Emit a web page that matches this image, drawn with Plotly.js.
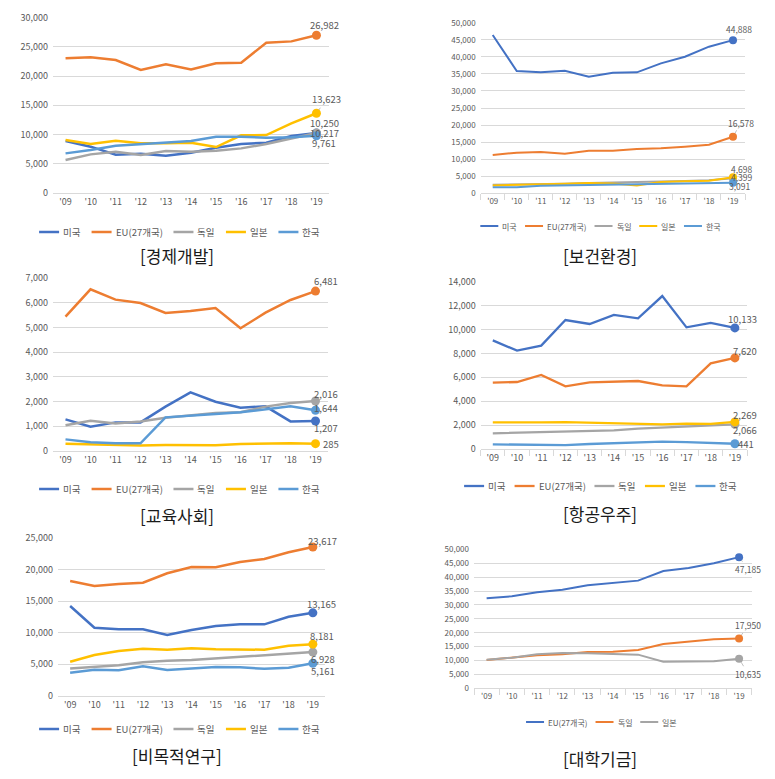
<!DOCTYPE html>
<html>
<head>
<meta charset="utf-8">
<script src="https://cdn.plot.ly/plotly-3.0.1.min.js"></script>
<style>html,body{margin:0;padding:0;background:#fff;}#chart{width:775px;height:779px;}</style>
</head>
<body>
<div id="chart"></div>
<script>
// ---- data ----
const years = ["'09","'10","'11","'12","'13","'14","'15","'16","'17","'18","'19"];
const countries5 = ["미국","EU(27개국)","독일","일본","한국"];
const countries3 = ["EU(27개국)","독일","일본"];

// [경제개발]
const econUS  = [8850,7890,6510,6690,6340,6860,7710,8340,8570,9710,10217];
const econEU  = [23030,23200,22740,21030,22000,21140,22170,22290,25700,25940,26982];
const econDE  = [5600,6570,7030,6460,7140,7030,7200,7600,8340,9310,10250];
const econJP  = [9030,8340,8910,8460,8460,8570,7830,9830,9890,11890,13623];
const econKR  = [6740,7310,8060,8340,8510,8860,9600,9600,9430,9490,9761];

// [보건환경]
const healthUS = [46390,35840,35450,35940,34180,35350,35450,38090,40040,42970,44888];
const healthEU = [11230,11910,12110,11620,12500,12500,12990,13180,13670,14260,16578];
const healthDE = [2500,2550,2700,2800,3000,3100,3200,3400,3600,3800,4399];
const healthJP = [2300,2400,2600,2800,3000,2900,2300,3300,3500,3700,4698];
const healthKR = [1800,1800,2200,2300,2400,2500,2700,2900,3000,3000,3091];

// [교육사회]
const eduUS = [1273,975,1150,1150,1787,2370,1990,1747,1800,1190,1207];
const eduEU = [5443,6553,6133,5998,5592,5673,5795,4969,5605,6120,6481];
const eduDE = [1030,1220,1100,1190,1340,1420,1530,1560,1790,1940,2016];
const eduJP = [285,260,215,215,230,230,220,270,300,300,285];
const eduKR = [460,340,300,300,1354,1408,1490,1560,1690,1800,1644];

// [항공우주]
const aeroUS = [9093,8230,8650,10795,10460,11215,10935,12800,10180,10545,10133];
const aeroEU = [5550,5607,6193,5245,5580,5635,5690,5330,5245,7170,7620];
const aeroDE = [1310,1350,1400,1450,1520,1560,1700,1780,1850,1960,2066];
const aeroJP = [2230,2200,2220,2250,2200,2100,2090,2060,2120,2100,2269];
const aeroKR = [390,350,300,320,420,480,590,620,580,480,441];

// [비목적연구]
const basicUS = [14250,10800,10540,10540,9640,10430,11070,11330,11330,12550,13165];
const basicEU = [18220,17430,17740,17950,19440,20440,20390,21240,21720,22780,23617];
const basicDE = [4340,4610,4820,5300,5560,5670,5930,6140,6460,6620,6928];
const basicJP = [5400,6460,7100,7470,7310,7520,7360,7310,7310,7940,8181];
const basicKR = [3650,4130,4030,4660,4080,4340,4560,4500,4290,4450,5161];

// [대학기금]
const univEU = [32370,33090,34530,35490,37050,37890,38730,42210,43290,44960,47185];
const univDE = [10190,11030,11870,12230,13070,13190,13790,15950,16790,17630,17950];
const univJP = [10310,11030,12230,12710,12590,12470,12110,9590,9710,9710,10635];

const panelTitles = ["[경제개발]","[보건환경]","[교육사회]","[항공우주]","[비목적연구]","[대학기금]"];

// ---- styling / layout ----
const W = 775, H = 779;
const FONT = "'Noto Sans CJK KR', 'Noto Sans', sans-serif";
const col5 = ["#4472C4","#ED7D31","#A5A5A5","#FFC000","#5B9BD5"];
const col3 = ["#4472C4","#ED7D31","#A5A5A5"];

const panels = [
  {names: countries5, data:[econUS,econEU,econDE,econJP,econKR], colors: col5,
   px:[53,329], py:[192.7,17.7], ymax:30000, dtick:5000, fs:9, lw:2.5, ms:9, ticks:false,
   leg:[179,232], lfs:9.5, llen:20, lgap:12, ttl:[177,255],
   labs:[[8,0,0],[8,-10,0],[8,-10,0],[10,-14,1],[8,7,0]]},
  {names: countries5, data:[healthUS,healthEU,healthDE,healthJP,healthKR], colors: col5,
   px:[480.7,745], py:[193.3,22.7], ymax:50000, dtick:5000, fs:8, lw:2, ms:8, ticks:true,
   leg:[600,226], lfs:8, llen:18, lgap:9, ttl:[600,255],
   labs:[[6,-11,1],[8,-14,1],[9,-1,0],[9,-8,0],[7,3,0]]},
  {names: countries5, data:[eduUS,eduEU,eduDE,eduJP,eduKR], colors: col5,
   px:[53,328], py:[450.7,278.3], ymax:7000, dtick:1000, fs:9, lw:2.5, ms:9, ticks:false,
   leg:[179,489], lfs:9.5, llen:20, lgap:12, ttl:[177,515],
   labs:[[10,7,0],[10,-10,0],[10,-7,0],[15,0,0],[10,-2,0]]},
  {names: countries5, data:[aeroUS,aeroEU,aeroDE,aeroJP,aeroKR], colors: col5,
   px:[480.7,747], py:[449,281.7], ymax:14000, dtick:2000, fs:9, lw:2.3, ms:9, ticks:true,
   leg:[600,486], lfs:9.5, llen:20, lgap:10, ttl:[600,513],
   labs:[[8,-9,0],[10,-7,0],[10,6,0],[10,-7,0],[11,0,0]]},
  {names: countries5, data:[basicUS,basicEU,basicDE,basicJP,basicKR], colors: col5,
   px:[58,325], py:[695.7,538.3], ymax:25000, dtick:5000, fs:9, lw:2.5, ms:9, ticks:false,
   leg:[179,729], lfs:9.5, llen:20, lgap:12, ttl:[177,755],
   labs:[[9,-9,0],[10,-6,0],[10,7,0],[9,-8,0],[10,8,0]]},
  {names: countries3, data:[univEU,univDE,univJP], colors: col3,
   px:[474,751.7], py:[688.3,549.3], ymax:50000, dtick:5000, fs:8, lw:2, ms:8, ticks:true,
   leg:[601,722], lfs:8, llen:18, lgap:9, ttl:[600,758],
   labs:[[9,12,1],[9,-13,1],[9,15,1]]}
];

const ctx = document.createElement("canvas").getContext("2d");
function textWidth(t, size) {
  ctx.font = size + "px 'Noto Sans CJK KR'";
  return ctx.measureText(t).width;
}

const traces = [];
const annotations = [];
const shapes = [];
const layout = {
  width: W, height: H,
  margin: {l:0, r:0, t:0, b:0},
  paper_bgcolor: "#fff", plot_bgcolor: "#fff",
  font: {family: FONT, color: "#595959"},
  showlegend: false
};

panels.forEach((p, i) => {
  const n = i + 1;
  const xa = n === 1 ? "x" : "x" + n;
  const ya = n === 1 ? "y" : "y" + n;
  const xk = n === 1 ? "xaxis" : "xaxis" + n;
  const yk = n === 1 ? "yaxis" : "yaxis" + n;

  layout[xk] = {
    type: "category", domain: [p.px[0]/W, p.px[1]/W], range: [-0.5, 10.5],
    anchor: ya, showgrid: false, zeroline: false,
    showline: true, linecolor: "#d9d9d9", linewidth: 1,
    ticks: p.ticks ? "outside" : "", tickson: "boundaries", ticklen: 6, tickcolor: "#d9d9d9",
    tickfont: {family: FONT, size: p.fs, color: "#595959"}, fixedrange: true
  };
  layout[yk] = {
    domain: [1 - p.py[0]/H, 1 - p.py[1]/H], range: [0, p.ymax], dtick: p.dtick,
    anchor: xa, showgrid: true, gridcolor: "#d9d9d9", gridwidth: 1, zeroline: false,
    showline: false, tickformat: ",", ticks: "", ticklabelstandoff: 4,
    tickfont: {family: FONT, size: p.fs, color: "#595959"}, fixedrange: true
  };

  p.data.forEach((vals, k) => {
    traces.push({
      type: "scatter", mode: "lines", x: years, y: vals, name: p.names[k],
      xaxis: xa, yaxis: ya,
      line: {color: p.colors[k], width: p.lw}, hoverinfo: "skip"
    });
  });
  p.data.forEach((vals, k) => {
    const last = vals.length - 1;
    traces.push({
      type: "scatter", mode: "markers", x: [years[last]], y: [vals[last]],
      xaxis: xa, yaxis: ya,
      marker: {color: p.colors[k], size: p.ms}, hoverinfo: "skip"
    });
    const [dx, dy, leader] = p.labs[k];
    const a = {
      x: years[last], y: vals[last], xref: xa, yref: ya,
      text: vals[last].toLocaleString("en-US"),
      font: {family: FONT, size: p.fs + 0.5, color: "#595959"}
    };
    if (leader) {
      Object.assign(a, {showarrow: true, ax: dx, ay: dy, arrowhead: 0, arrowwidth: 0.7,
        arrowcolor: "#a6a6a6", standoff: 4, startstandoff: 0});
    } else {
      Object.assign(a, {showarrow: false, xshift: dx, yshift: -dy});
    }
    annotations.push(a);
  });

  // legend (line sample + label), centered under each panel
  const gapT = 3, gapI = p.lgap;
  const widths = p.names.map(nm => p.llen + gapT + textWidth(nm, p.lfs));
  const total = widths.reduce((s, w) => s + w, 0) + gapI * (widths.length - 1);
  let x0 = p.leg[0] - total / 2;
  const ly = 1 - p.leg[1] / H;
  p.names.forEach((nm, k) => {
    shapes.push({type: "line", xref: "paper", yref: "paper",
      x0: x0 / W, x1: (x0 + p.llen) / W, y0: ly, y1: ly,
      line: {color: p.colors[k], width: p.lw}});
    annotations.push({xref: "paper", yref: "paper", x: (x0 + p.llen + gapT) / W, y: ly,
      xanchor: "left", yanchor: "middle", showarrow: false, borderpad: 0,
      text: nm, font: {family: FONT, size: p.lfs, color: "#595959"}});
    x0 += widths[k] + gapI;
  });

  annotations.push({
    xref: "paper", yref: "paper", x: p.ttl[0]/W, y: 1 - p.ttl[1]/H,
    xanchor: "center", yanchor: "middle", showarrow: false,
    text: panelTitles[i], font: {family: FONT, size: 17, color: "#1a1a1a"}
  });
});

layout.annotations = annotations;
layout.shapes = shapes;
Plotly.newPlot("chart", traces, layout, {displayModeBar: false, staticPlot: true});
</script>
</body>
</html>
